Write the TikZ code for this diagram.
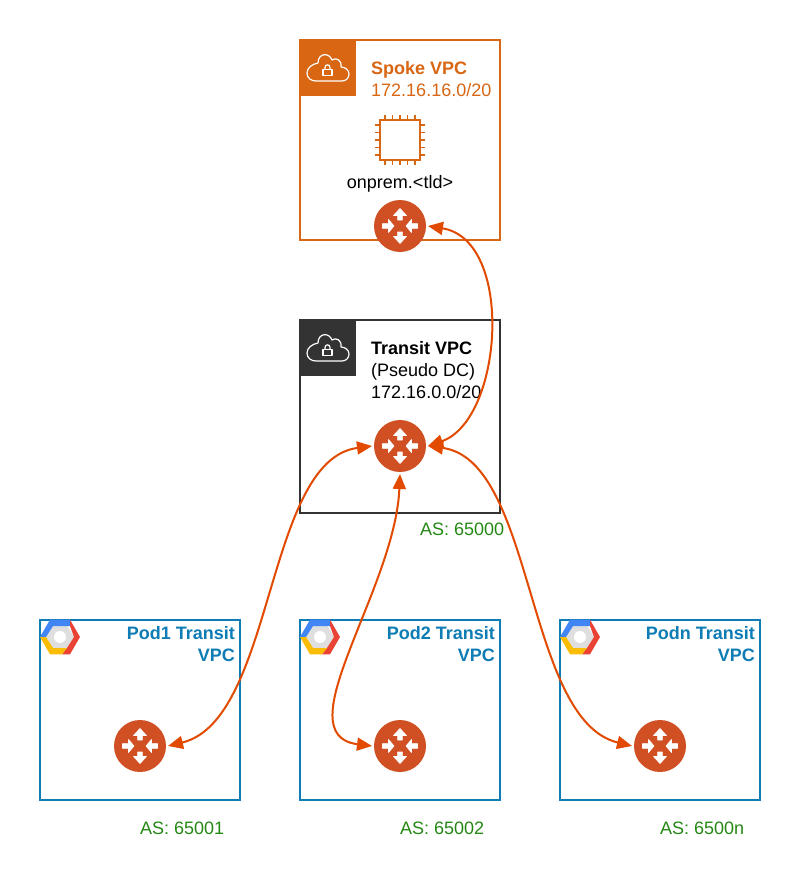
\documentclass[tikz,border=0pt]{standalone}
\usepackage{fontspec}
\setmainfont{Liberation Sans}
\usetikzlibrary{arrows.meta}
\definecolor{spokeorange}{HTML}{D86613}
\definecolor{transitgray}{HTML}{333333}
\definecolor{podblue}{HTML}{0E7CB5}
\definecolor{asgreen}{HTML}{248814}
\definecolor{routerred}{HTML}{D05024}
\definecolor{linkred}{HTML}{E24A00}
\definecolor{gcpblue}{HTML}{4285F4}
\definecolor{gcpred}{HTML}{EA4335}
\definecolor{gcpyellow}{HTML}{FBBC05}
\tikzset{
	vpcbox/.style={draw,line width=2pt,fill=white,minimum width=200pt,inner sep=0pt},
	router/.style={circle,fill=routerred,minimum size=52pt,inner sep=0pt,outer sep=2pt},
	vpctext/.style={inner sep=0pt,font=\fontsize{18}{22}\selectfont},
	astext/.style={anchor=base west,inner sep=0pt,text=asgreen,font=\fontsize{18}{22}\selectfont},
	link/.style={draw=linkred,line width=2pt,{Triangle[length=15pt,width=13pt]}-{Triangle[length=15pt,width=13pt]}},
	pics/rtarrows/.style={code={
		\foreach \a in {90,270}
			\filldraw[white,line width=0.6pt,line join=round,rotate=\a] (6,-2.4)--(10.5,-2.4)--(10.5,-6.5)--(17.5,0)--(10.5,6.5)--(10.5,2.4)--(6,2.4)--cycle;
		\foreach \a in {0,180}
			\filldraw[white,line width=0.6pt,line join=round,rotate=\a] (17.5,-2.4)--(11.5,-2.4)--(11.5,-6.5)--(6,0)--(11.5,6.5)--(11.5,2.4)--(17.5,2.4)--cycle;
	}},
	pics/vpcflag/.style={code={
		\fill[#1] (0,0) rectangle (56,56);
		\draw[white,line width=1.2pt,line join=round] (16,41)--(42,41)
			.. controls (46,41) and (49,38) .. (49,34)
			.. controls (49,30) and (45,27) .. (41,27)
			.. controls (42,20) and (36,17) .. (32,20)
			.. controls (29,12) and (18,13) .. (18,23)
			.. controls (12,24) and (7,28) .. (7,33)
			.. controls (7,38) and (11,41) .. (16,41)--cycle;
		\draw[white,line width=1.2pt,line join=round] (23,29.5) rectangle (32,35.5);
		\draw[white,line width=1.2pt] (25,29.5)--(25,27.5) .. controls (25,24) and (30,24) .. (30,27.5)--(30,29.5);
	}},
	pics/gcplogo/.style={code={
		\fill[gray!25] (-14,0)--(-7,-12)--(7,-12)--(14,0)--(7,12)--(-7,12)--cycle;
		\fill[white] (0,0) circle (6);
		\fill[gcpblue] (-20,0)--(-10,-17.3)--(10,-17.3)--(13,-11)--(-7,-11)--(-14,0)--cycle;
		\fill[gcpred] (10,-17.3)--(20,0)--(10,17.3)--(2,17.3)--(7,11)--(14,0)--(10,-11)--cycle;
		\fill[gcpyellow] (-20,0)--(-14,0)--(-7,11)--(7,11)--(2,17.3)--(-10,17.3)--cycle;
	}},
	pics/chipicon/.style={code={
		\draw[spokeorange,line width=2pt] (-20,-20) rectangle (20,20);
		\foreach \p in {-15,-7.5,0,7.5,15} {
			\draw[spokeorange,line width=1.5pt] (\p,-25)--(\p,-20);
			\draw[spokeorange,line width=1.5pt] (\p,20)--(\p,25);
			\draw[spokeorange,line width=1.5pt] (-25,\p)--(-20,\p);
			\draw[spokeorange,line width=1.5pt] (20,\p)--(25,\p);
		}
	}}
}
\begin{document}
\begin{tikzpicture}[x=1pt,y=-1pt]
	\useasboundingbox (0,0) rectangle (800,880);
	% vpc boxes
	\node[vpcbox,draw=spokeorange,minimum height=200pt] (spokebox) at (400,140) {};
	\node[vpcbox,draw=transitgray,minimum height=193pt] (transitbox) at (400,416.5) {};
	\node[vpcbox,draw=podblue,minimum height=180pt] (pod1box) at (140,710) {};
	\node[vpcbox,draw=podblue,minimum height=180pt] (pod2box) at (400,710) {};
	\node[vpcbox,draw=podblue,minimum height=180pt] (podnbox) at (660,710) {};
	% corner icons
	\pic at (300,40) {vpcflag=spokeorange};
	\pic at (300,320) {vpcflag=transitgray};
	\pic at (60,637) {gcplogo};
	\pic at (320,637) {gcplogo};
	\pic at (580,637) {gcplogo};
	\pic at (400,140) {chipicon};
	% labels
	\node[vpctext,anchor=north west,align=left,text=spokeorange] (spokelabel) at (371,61) {\textbf{Spoke VPC}\\172.16.16.0/20};
	\node[vpctext,anchor=north west,align=left] (transitlabel) at (371,341) {\textbf{Transit VPC}\\(Pseudo DC)\\172.16.0.0/20};
	\node[vpctext] (tldlabel) at (400,184) {onprem.<tld>};
	\node[vpctext,anchor=north east,align=right,text=podblue] (pod1label) at (235,626) {\textbf{Pod1 Transit}\\\textbf{VPC}};
	\node[vpctext,anchor=north east,align=right,text=podblue] (pod2label) at (495,626) {\textbf{Pod2 Transit}\\\textbf{VPC}};
	\node[vpctext,anchor=north east,align=right,text=podblue] (podnlabel) at (755,626) {\textbf{Podn Transit}\\\textbf{VPC}};
	\node[astext] (as0) at (420,535) {AS: 65000};
	\node[astext] (as1) at (140,834) {AS: 65001};
	\node[astext] (as2) at (400,834) {AS: 65002};
	\node[astext] (asn) at (660,834) {AS: 6500n};
	% routers
	\node[router] (spokert) at (400,226) {};
	\node[router] (transitrt) at (400,446) {};
	\node[router] (pod1rt) at (140,746) {};
	\node[router] (pod2rt) at (400,746) {};
	\node[router] (podnrt) at (660,746) {};
	\pic at (spokert) {rtarrows};
	\pic at (transitrt) {rtarrows};
	\pic at (pod1rt) {rtarrows};
	\pic at (pod2rt) {rtarrows};
	\pic at (podnrt) {rtarrows};
	% links
	\draw[link] (spokert.east) .. controls (515,240) and (503,420) .. (transitrt.east);
	\draw[link] (pod1rt.east) .. controls (275,720) and (265,460) .. (transitrt.west);
	\draw[link] (pod2rt.west) .. controls (284,735) and (395,590) .. (transitrt.south);
	\draw[link] (podnrt.west) .. controls (525,720) and (535,460) .. (transitrt.east);
\end{tikzpicture}
\end{document}
